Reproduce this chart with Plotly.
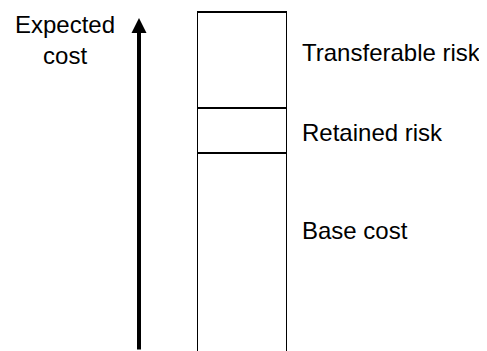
import plotly.graph_objects as go

# Stacked components of expected cost (arbitrary units, bottom to top)
components = ["Base cost", "Retained risk", "Transferable risk"]
amounts = [200, 45, 96]

axis_label = "Expected<br>cost"

font = dict(family="Liberation Sans, Arial, Helvetica, sans-serif", size=24, color="black")

fig = go.Figure()

for name, amt in zip(components, amounts):
    fig.add_trace(go.Bar(
        x=[242], y=[amt], width=[89], name=name,
        marker=dict(color="white", line=dict(color="black", width=1.5)),
        showlegend=False, hoverinfo="name",
    ))

# labels to the right of each block (nudged a bit like in the drawing)
nudges = [23, -1.5, 8]
bottom = 0
for name, amt, dy in zip(components, amounts, nudges):
    fig.add_annotation(x=300, y=bottom + amt / 2 + dy, text=name, showarrow=False,
                       xanchor="left", yanchor="middle", font=font)
    bottom += amt

# the vertical "expected cost" arrow
fig.add_annotation(x=139, y=335, ax=139, ay=2, xref="x", yref="y", axref="x", ayref="y",
                   text="", showarrow=True, arrowhead=2, arrowsize=0.75, arrowwidth=4,
                   arrowcolor="black")
fig.add_annotation(x=65, y=344, text=axis_label, showarrow=False, xanchor="center",
                   yanchor="top", align="center", font=font)

# page body has an 8px margin, so the figure is 8px smaller and the ranges start there
fig.update_xaxes(range=[8, 487], visible=False)
fig.update_yaxes(range=[2, 345], visible=False)
fig.update_layout(
    barmode="stack", width=479, height=343,
    margin=dict(l=0, r=0, t=0, b=0),
    paper_bgcolor="white", plot_bgcolor="white",
)

fig.write_html("out.html")
